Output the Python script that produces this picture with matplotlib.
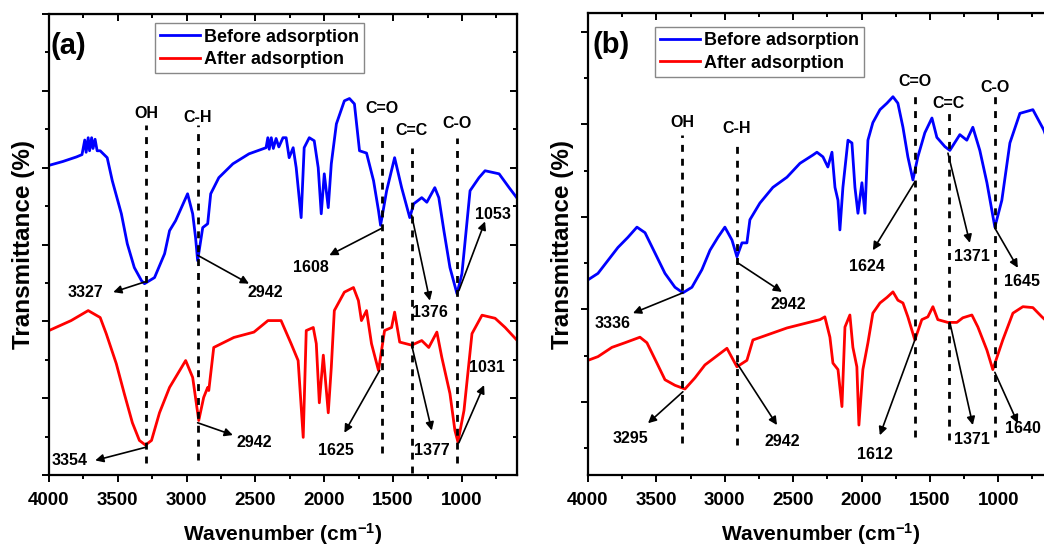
import matplotlib
matplotlib.use('Agg')
import matplotlib.pyplot as plt
from matplotlib.ticker import MultipleLocator, FixedLocator

plt.rcParams['font.family'] = ['Liberation Sans', 'DejaVu Sans']
plt.rcParams['font.weight'] = 'bold'
plt.rcParams['axes.labelweight'] = 'bold'
plt.rcParams['mathtext.fontset'] = 'custom'
plt.rcParams['mathtext.rm'] = 'Liberation Sans:bold'
plt.rcParams['mathtext.it'] = 'Liberation Sans:bold'
plt.rcParams['mathtext.bf'] = 'Liberation Sans:bold'

# ---- panel (a) spectra (wavenumber, transmittance in arbitrary units) ----
wn_a_before = [4000, 3900, 3800, 3760, 3740, 3730, 3715, 3705, 3690, 3680, 3665, 3650, 3628, 3577,
               3540, 3474, 3431, 3380, 3328, 3306, 3233, 3160, 3124, 3080, 2993, 2956, 2935, 2920,
               2883, 2847, 2825, 2766, 2664, 2547, 2423, 2410, 2400, 2385, 2370, 2350, 2330, 2300,
               2277, 2255, 2226, 2204, 2168, 2146, 2109, 2073, 2044, 2022, 2000, 1971, 1949, 1912,
               1854, 1817, 1781, 1744, 1693, 1642, 1606, 1591, 1547, 1489, 1438, 1379, 1350, 1292,
               1255, 1197, 1168, 1131, 1087, 1036, 1000, 941, 876, 832, 781, 730, 657, 598]
t_a_before = [4.03, 4.08, 4.14, 4.17, 4.36, 4.20, 4.39, 4.22, 4.39, 4.25, 4.37, 4.22, 4.22, 4.13,
              3.83, 3.40, 3.01, 2.70, 2.53, 2.49, 2.57, 2.88, 3.18, 3.31, 3.66, 3.40, 3.09, 2.79,
              3.22, 3.27, 3.66, 3.87, 4.05, 4.18, 4.26, 4.39, 4.24, 4.39, 4.25, 4.38, 4.27, 4.39,
              4.39, 4.13, 4.26, 4.00, 3.35, 4.26, 4.39, 4.35, 4.00, 3.40, 3.92, 3.48, 4.05, 4.57,
              4.87, 4.90, 4.83, 4.22, 4.19, 3.83, 3.44, 3.25, 3.70, 4.13, 3.74, 3.35, 3.53, 3.61,
              3.55, 3.74, 3.61, 3.18, 2.70, 2.36, 2.62, 3.70, 3.87, 3.96, 3.94, 3.92, 3.74, 3.60]

wn_a_after = [4000, 3839, 3715, 3628, 3584, 3511, 3453, 3394, 3343, 3299, 3255, 3197, 3124, 3007,
              2956, 2912, 2876, 2847, 2839, 2803, 2657, 2511, 2409, 2314, 2241, 2190, 2153, 2131,
              2080, 2058, 2036, 2007, 1971, 1949, 1927, 1854, 1788, 1752, 1730, 1693, 1657, 1606,
              1562, 1511, 1489, 1452, 1365, 1292, 1241, 1182, 1146, 1087, 1051, 1029, 985, 927,
              854, 759, 686, 598]
t_a_after = [1.88, 2.01, 2.14, 2.05, 1.84, 1.45, 1.06, 0.68, 0.45, 0.39, 0.45, 0.81, 1.14, 1.49,
             1.27, 0.71, 1.01, 1.14, 1.10, 1.66, 1.79, 1.86, 2.01, 2.01, 1.71, 1.49, 0.49, 1.88,
             1.92, 1.71, 0.94, 1.56, 0.81, 1.40, 2.14, 2.38, 2.44, 2.27, 2.01, 2.14, 1.71, 1.36,
             1.88, 1.92, 2.12, 1.73, 1.69, 1.75, 1.66, 1.86, 1.53, 1.06, 0.58, 0.43, 0.84, 1.84,
             2.08, 2.04, 1.92, 1.75]

# ---- panel (b) spectra ----
wn_b_before = [4000, 3927, 3854, 3781, 3708, 3642, 3583, 3510, 3437, 3364, 3306, 3240, 3167, 3108,
               3050, 2999, 2947, 2911, 2874, 2838, 2816, 2743, 2648, 2545, 2450, 2355, 2326, 2282,
               2246, 2216, 2194, 2172, 2158, 2136, 2099, 2070, 2048, 2026, 1997, 1975, 1953, 1917,
               1865, 1814, 1770, 1734, 1697, 1661, 1624, 1588, 1537, 1485, 1449, 1390, 1354, 1281,
               1230, 1186, 1135, 1083, 1025, 974, 915, 842, 747, 667, 600]
t_b_before = [2.11, 2.18, 2.32, 2.46, 2.57, 2.68, 2.62, 2.40, 2.18, 2.03, 1.97, 2.03, 2.22, 2.43,
              2.57, 2.68, 2.54, 2.36, 2.51, 2.51, 2.76, 2.94, 3.11, 3.22, 3.37, 3.46, 3.49, 3.44,
              3.33, 3.49, 3.11, 2.97, 2.65, 3.11, 3.62, 3.59, 3.11, 2.83, 3.16, 2.83, 3.62, 3.81,
              3.95, 4.02, 4.09, 4.02, 3.76, 3.44, 3.19, 3.44, 3.70, 3.86, 3.65, 3.55, 3.51, 3.68,
              3.62, 3.76, 3.51, 3.16, 2.68, 2.97, 3.59, 3.91, 3.95, 3.73, 3.45]

wn_b_after = [4000, 3927, 3825, 3730, 3620, 3569, 3496, 3437, 3364, 3291, 3218, 3145, 2984, 2911,
              2838, 2794, 2545, 2304, 2268, 2231, 2209, 2172, 2143, 2121, 2085, 2063, 2034, 2019,
              1990, 1953, 1917, 1865, 1814, 1770, 1734, 1697, 1661, 1610, 1559, 1515, 1478, 1442,
              1369, 1303, 1259, 1193, 1149, 1083, 1040, 967, 893, 820, 747, 681, 600]
t_b_after = [1.24, 1.28, 1.38, 1.43, 1.49, 1.43, 1.21, 1.03, 0.97, 0.93, 1.05, 1.19, 1.37, 1.17,
             1.24, 1.46, 1.59, 1.68, 1.71, 1.49, 1.21, 1.14, 0.74, 1.60, 1.73, 1.38, 1.17, 0.54,
             1.14, 1.43, 1.75, 1.86, 1.92, 1.98, 1.89, 1.86, 1.71, 1.46, 1.68, 1.71, 1.82, 1.68,
             1.65, 1.65, 1.70, 1.73, 1.60, 1.35, 1.14, 1.46, 1.75, 1.82, 1.81, 1.71, 1.60]

series_names = ['Before adsorption', 'After adsorption']

# guide lines: (group label, wavenumber, y bottom, y top, label y)
guides_a = [('OH', 3292, 0.16, 4.55, 4.71), ('C-H', 2920, 0.19, 4.55, 4.65),
            ('C=O', 1584, 0.29, 4.55, 4.77), ('C=C', 1365, 0.03, 4.25, 4.48),
            ('C-O', 1036, 0.16, 4.39, 4.57)]
guides_b = [('OH', 3313, 0.35, 3.68, 3.81), ('C-H', 2911, 0.32, 3.59, 3.75),
            ('C=O', 1610, 0.41, 4.14, 4.25), ('C=C', 1361, 0.38, 3.91, 4.02),
            ('C-O', 1025, 0.41, 4.11, 4.19)]

# peak labels: (text, curve point, arrow head, text position)
peaks_a = [('3327', (3292, 2.52), (3533, 2.38), (3737, 2.38)),
           ('2942', (2920, 2.86), (2547, 2.49), (2430, 2.38)),
           ('1608', (1584, 3.21), (1963, 2.86), (2095, 2.70)),
           ('1376', (1365, 3.38), (1233, 2.27), (1233, 2.12)),
           ('1053', (1022, 2.40), (832, 3.30), (773, 3.39)),
           ('3354', (3299, 0.36), (3664, 0.19), (3847, 0.19)),
           ('2942', (2920, 0.68), (2664, 0.52), (2511, 0.42)),
           ('1625', (1598, 1.36), (1854, 0.55), (1912, 0.32)),
           ('1377', (1365, 1.69), (1219, 0.58), (1219, 0.32)),
           ('1031', (1022, 0.42), (839, 1.17), (818, 1.40))]
peaks_b = [('1624', (1610, 3.17), (1917, 2.43), (1961, 2.25)),
           ('1371', (1368, 3.48), (1208, 2.51), (1193, 2.36)),
           ('1645', (1025, 2.67), (857, 2.24), (828, 2.09)),
           ('3336', (3306, 1.97), (3671, 1.75), (3817, 1.64)),
           ('2942', (2911, 2.30), (2582, 1.98), (2538, 1.84)),
           ('3295', (3306, 0.90), (3561, 0.56), (3693, 0.40)),
           ('2942', (2911, 1.21), (2618, 0.54), (2582, 0.36)),
           ('1612', (1610, 1.46), (1866, 0.43), (1902, 0.22)),
           ('1371', (1354, 1.65), (1186, 0.54), (1193, 0.38)),
           ('1640', (1025, 1.11), (857, 0.56), (821, 0.50))]


def draw_panel(ax, wn1, t1, wn2, t2, ylim, ymajor, yminor, tag, tag_x, leg_anchor, guides, peaks):
    ax.plot(wn1, t1, color='#0000ff', lw=2.0, label=series_names[0])
    ax.plot(wn2, t2, color='#ff0000', lw=2.0, label=series_names[1])
    ax.set_xlim(4000, 600)
    ax.set_ylim(*ylim)

    for name, x, y0, y1, ly in guides:
        ax.plot([x, x], [y0, y1], color='black', lw=2.0, ls=(0, (2.5, 2.5)))
        ax.text(x, ly, name, ha='center', va='center', fontsize=11.5)

    for txt, tail, head, pos in peaks:
        ax.annotate('', xy=head, xytext=tail,
                    arrowprops=dict(arrowstyle='-|>', color='black', lw=1.2,
                                    mutation_scale=12, shrinkA=0, shrinkB=0))
        ax.text(pos[0], pos[1], txt, ha='center', va='center', fontsize=11.5)

    ax.xaxis.set_major_locator(MultipleLocator(500))
    ax.xaxis.set_minor_locator(MultipleLocator(250))
    ax.yaxis.set_major_locator(FixedLocator(ymajor))
    ax.yaxis.set_minor_locator(FixedLocator(yminor))
    for s in ax.spines.values():
        s.set_linewidth(1.6)
    ax.tick_params(which='both', direction='out', width=1.4, labelleft=False, labelsize=13.5)
    ax.tick_params(axis='x', pad=7)
    ax.tick_params(which='major', length=5)
    ax.tick_params(which='minor', length=3)

    top = ax.secondary_xaxis('top')
    top.xaxis.set_major_locator(MultipleLocator(500))
    top.xaxis.set_minor_locator(MultipleLocator(250))
    top.tick_params(which='both', direction='in', width=1.4, labeltop=False)
    top.tick_params(which='major', length=5)
    top.tick_params(which='minor', length=3)
    right = ax.secondary_yaxis('right')
    right.yaxis.set_major_locator(FixedLocator(ymajor))
    right.yaxis.set_minor_locator(FixedLocator(yminor))
    right.tick_params(which='both', direction='in', width=1.4, labelright=False)
    right.tick_params(which='major', length=5)
    right.tick_params(which='minor', length=3)

    ax.set_xlabel('Wavenumber (cm$^{-1}$)', fontsize=15, fontweight='bold', labelpad=9)
    ax.set_ylabel('Transmittance (%)', fontsize=17.5, fontweight='bold', labelpad=5)
    ax.text(tag_x, 0.93, tag, transform=ax.transAxes, fontsize=21, ha='left', va='center')
    ax.legend(loc='upper left', bbox_to_anchor=leg_anchor, borderaxespad=0, fontsize=13,
              handlelength=2.2, handletextpad=0.2, borderpad=0.3, labelspacing=0.3,
              fancybox=False, edgecolor='#888888', framealpha=1)


fig = plt.figure(figsize=(10.44, 5.47), dpi=100)
ax_a = fig.add_axes([0.0469, 0.1316, 0.4483, 0.8428])
ax_b = fig.add_axes([0.5632, 0.1316, 0.4454, 0.8446])

draw_panel(ax_a, wn_a_before, t_a_before, wn_a_after, t_a_after, (0, 6),
           [0, 1, 2, 3, 4, 5, 6], [0.5, 1.5, 2.5, 3.5, 4.5, 5.5],
           '(a)', 0.004, (0.2265, 0.98), guides_a, peaks_a)
draw_panel(ax_b, wn_b_before, t_b_before, wn_b_after, t_b_after, (0, 4.995),
           [0.79, 1.79, 2.79, 3.79, 4.79], [0.29, 1.29, 2.29, 3.29, 4.29],
           '(b)', 0.01, (0.144, 0.97), guides_b, peaks_b)

fig.savefig('out.png', dpi=100)
